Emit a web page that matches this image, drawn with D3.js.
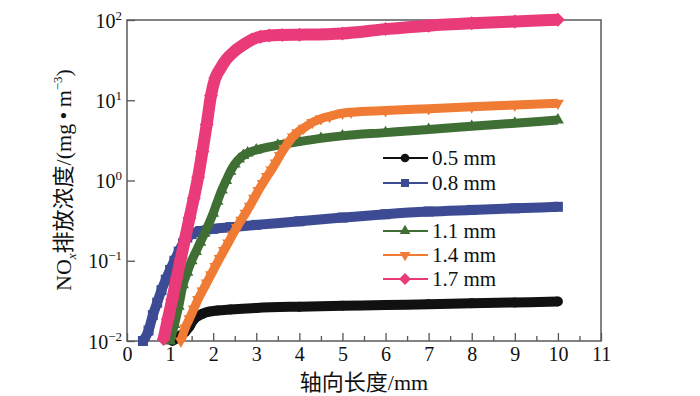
<!DOCTYPE html>
<html>
<head>
<meta charset="utf-8">
<script src="https://cdn.jsdelivr.net/npm/d3@7"></script>
<style>
  body { margin: 0; background: #fff; }
  svg { display: block; font-family: "Liberation Serif", "Noto Sans CJK SC", serif; }
</style>
</head>
<body>
<svg id="chart" width="700" height="396"></svg>
<script>
// values: axial length (mm) -> NOx (mg/m3)
let names = ["0.5 mm", "0.8 mm", "1.1 mm", "1.4 mm", "1.7 mm"];

let x_05 = [1.05, 1.15, 1.25, 1.35, 1.45, 1.55, 1.65, 1.75, 1.9, 2.1, 2.4, 3, 4, 5, 6, 7, 8, 9, 10];
let y_05 = [0.010, 0.0108, 0.0118, 0.013, 0.0152, 0.0185, 0.0205, 0.0218, 0.0232, 0.0240, 0.0247,
            0.0258, 0.0268, 0.0275, 0.028, 0.0288, 0.0295, 0.0302, 0.031];

let x_08 = [0.37, 0.5, 0.6, 0.7, 0.8, 0.9, 1.0, 1.1, 1.2, 1.3, 1.4, 1.5, 1.7, 2.0, 2.4, 3, 4, 5, 6, 7, 8, 9, 10];
let y_08 = [0.010, 0.0135, 0.021, 0.030, 0.043, 0.058, 0.077, 0.10, 0.13, 0.165, 0.195, 0.215, 0.235,
            0.25, 0.262, 0.28, 0.31, 0.345, 0.38, 0.41, 0.43, 0.45, 0.47];

let x_11 = [1.0, 1.1, 1.2, 1.3, 1.4, 1.5, 1.6, 1.7, 1.8, 1.9, 2.0, 2.1, 2.2, 2.3, 2.4, 2.5, 2.6, 2.7, 2.8,
            3.0, 3.5, 4, 4.5, 5, 6, 7, 8, 9, 10];
let y_11 = [0.010, 0.016, 0.027, 0.05, 0.072, 0.10, 0.13, 0.17, 0.22, 0.29, 0.39, 0.55, 0.76, 1.0, 1.3,
            1.6, 1.85, 2.05, 2.2, 2.4, 2.75, 3.05, 3.35, 3.6, 3.95, 4.33, 4.73, 5.18, 5.67];

let x_14 = [1.25, 1.35, 1.45, 1.55, 1.65, 1.75, 1.85, 1.95, 2.05, 2.15, 2.25, 2.35, 2.45, 2.55, 2.65, 2.75,
            2.85, 2.95, 3.05, 3.15, 3.25, 3.35, 3.45, 3.55, 3.65, 3.75, 3.85, 3.95, 4.1, 4.3, 4.5, 4.7,
            5.0, 5.2, 6, 7, 8, 9, 10];
let y_14 = [0.010, 0.0145, 0.019, 0.025, 0.033, 0.042, 0.053, 0.067, 0.085, 0.107, 0.134, 0.167, 0.21,
            0.26, 0.32, 0.39, 0.48, 0.6, 0.75, 0.92, 1.12, 1.35, 1.65, 2.05, 2.5, 3.0, 3.5, 3.95, 4.5,
            5.3, 5.9, 6.3, 6.9, 7.1, 7.45, 7.85, 8.3, 8.7, 9.2];

let x_17 = [0.85, 0.95, 1.05, 1.15, 1.25, 1.35, 1.45, 1.55, 1.65, 1.75, 1.85, 1.95, 2.05, 2.15, 2.3, 2.5,
            2.7, 2.9, 3.1, 3.3, 3.6, 4, 5, 6, 7, 8, 9, 10];
let y_17 = [0.0106, 0.0188, 0.033, 0.06, 0.107, 0.19, 0.34, 0.6, 1.1, 2.3, 5.0, 11.5, 19, 24, 32, 41,
            49, 57, 62, 64, 65, 65.5, 68, 77, 85, 91, 96, 101];

let x_values = [x_05, x_08, x_11, x_14, x_17];
let y_values = [y_05, y_08, y_11, y_14, y_17];

let x_ticks = [0, 1, 2, 3, 4, 5, 6, 7, 8, 9, 10, 11];
let y_ticks = [0.01, 0.1, 1, 10, 100];
let y_tick_exp = ["\u22122", "\u22121", "0", "1", "2"];

let colors = ["#111111", "#3c4b94", "#3f6f34", "#f07b34", "#e93a7a"];
let symbols = [d3.symbolCircle, d3.symbolSquare, d3.symbolTriangle, d3.symbolTriangle, d3.symbolDiamond2];
let rotations = [0, 0, 0, 180, 0];
let marker_size = [78, 100, 62, 62, 125];
let legend_size = [60, 64, 50, 50, 90];
let band_width = [10, 10, 9, 9, 12];

let plot_l = 127, plot_r = 601, plot_t = 20, plot_b = 341;

let x = d3.scaleLinear().domain([0, 11]).range([plot_l, plot_r]);
let y = d3.scaleLog().domain([0.01, 100]).range([plot_b, plot_t]);

let svg = d3.select("#chart");

// minor x ticks
svg.append("g")
  .attr("transform", `translate(0,${plot_b})`)
  .call(d3.axisBottom(x).tickValues(x_ticks.slice(0, -1).map(d => d + 0.5))
    .tickSize(-5).tickFormat(""))
  .call(g => g.select(".domain").remove())
  .selectAll("line").attr("stroke", "#555").attr("stroke-width", 1.3);

// major x ticks
svg.append("g")
  .attr("transform", `translate(0,${plot_b})`)
  .call(d3.axisBottom(x).tickValues(x_ticks).tickSize(-8).tickPadding(6).tickFormat(d3.format("d")))
  .call(g => g.select(".domain").remove())
  .call(g => g.selectAll("line").attr("stroke", "#555").attr("stroke-width", 1.3))
  .call(g => g.selectAll("text").attr("font-size", 20).attr("fill", "#111")
    .attr("font-family", "Liberation Serif"));

// y ticks with superscript labels
let y_axis = svg.append("g")
  .attr("transform", `translate(${plot_l},0)`)
  .call(d3.axisLeft(y).tickValues(y_ticks).tickSize(-8).tickFormat(""))
  .call(g => g.select(".domain").remove())
  .call(g => g.selectAll("line").attr("stroke", "#555").attr("stroke-width", 1.3));

y_axis.selectAll(".tick").each(function(d) {
  let t = d3.select(this).append("text")
    .attr("x", -5).attr("y", 7)
    .attr("text-anchor", "end")
    .attr("fill", "#111")
    .attr("font-family", "Liberation Serif");
  t.append("tspan").attr("font-size", 20).text("10");
  t.append("tspan").attr("font-size", 13).attr("dy", -8).text(y_tick_exp[y_ticks.indexOf(d)]);
});

// frame
svg.append("rect")
  .attr("x", plot_l).attr("y", plot_t)
  .attr("width", plot_r - plot_l).attr("height", plot_b - plot_t)
  .attr("fill", "none").attr("stroke", "#5a5a5a").attr("stroke-width", 1.5);

// series: dense markers form a thick band
let line = d3.line().x(d => x(d[0])).y(d => y(d[1])).curve(d3.curveMonotoneX);

for (let s = 0; s < names.length; s++) {
  let pts = x_values[s].map((v, i) => [v, y_values[s][i]]);
  let g = svg.append("g");
  g.append("path")
    .datum(pts)
    .attr("d", line)
    .attr("fill", "none")
    .attr("stroke", colors[s])
    .attr("stroke-width", band_width[s]);
  g.selectAll("path.mk")
    .data(pts).enter()
    .append("path")
    .attr("class", "mk")
    .attr("d", d3.symbol().type(symbols[s]).size(marker_size[s]))
    .attr("transform", d => `translate(${x(d[0])},${y(d[1])}) rotate(${rotations[s]})`)
    .attr("fill", colors[s]);
}

// legend
let legend_y = [158, 183, 231, 255, 279];
let lg = svg.append("g");
for (let s = 0; s < names.length; s++) {
  let row = lg.append("g").attr("transform", `translate(0,${legend_y[s]})`);
  row.append("line")
    .attr("x1", 383).attr("x2", 428)
    .attr("stroke", colors[s]).attr("stroke-width", 2);
  row.append("path")
    .attr("d", d3.symbol().type(symbols[s]).size(legend_size[s]))
    .attr("transform", `translate(405,0) rotate(${rotations[s]})`)
    .attr("fill", colors[s]);
  row.append("text")
    .attr("x", 432).attr("y", 7)
    .attr("font-size", 21).attr("fill", "#111")
    .text(names[s]);
}

// axis titles
svg.append("text")
  .attr("x", 364).attr("y", 390)
  .attr("text-anchor", "middle")
  .attr("font-size", 22).attr("fill", "#111")
  .text("轴向长度/mm");

let yl = svg.append("text")
  .attr("transform", "translate(71,180) rotate(-90)")
  .attr("text-anchor", "middle")
  .attr("font-size", 22).attr("fill", "#111");
yl.append("tspan").text("NO");
yl.append("tspan").attr("font-size", 13).attr("font-style", "italic").attr("dy", 5).text("x");
yl.append("tspan").attr("dy", -5).text("排放浓度/(mg\u2009\u2022\u2009m");
yl.append("tspan").attr("font-size", 13).attr("dy", -9).text("\u22123");
yl.append("tspan").attr("dy", 9).text(")");
</script>
</body>
</html>
